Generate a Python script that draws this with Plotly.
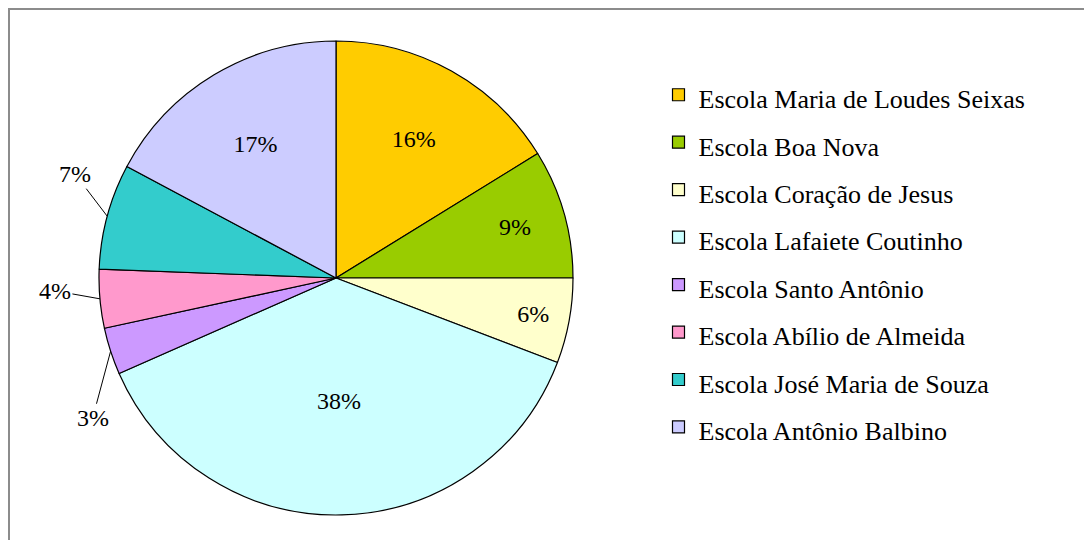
import math

import plotly.graph_objects as go

schools = [
    "Escola Maria de Loudes Seixas",
    "Escola Boa Nova",
    "Escola Coração de Jesus",
    "Escola Lafaiete Coutinho",
    "Escola Santo Antônio",
    "Escola Abílio de Almeida",
    "Escola José Maria de Souza",
    "Escola Antônio Balbino",
]
shares = [16.2, 8.8, 5.8, 37.6, 3.2, 4.0, 7.2, 17.2]
colors = ["#FFCC00", "#99CC00", "#FFFFCC", "#CCFFFF",
          "#CC99FF", "#FF99CC", "#33CCCC", "#CCCCFF"]
# small slices get a label outside with a leader line (pixel offset of the text)
outside_offsets = {4: (-18, 67), 5: (-45, -8), 6: (-32, -42)}

W, H = 1092, 540
FONT = "Liberation Serif, Times New Roman, serif"
# pie centre / radius in figure pixels
CX, CY, R = 328, 270, 237

text_pos = ["none" if i in outside_offsets else "inside" for i in range(len(shares))]

fig = go.Figure(go.Pie(
    labels=[f"<span style='font-size:26px'>{s}</span>" for s in schools],
    values=shares,
    sort=False,
    direction="clockwise",
    rotation=0,
    marker={"colors": colors, "line": {"color": "black", "width": 1.2}},
    textinfo="percent",
    texttemplate="%{percent:.0%}",
    textposition=text_pos,
    insidetextorientation="horizontal",
    textfont={"family": FONT, "size": 24, "color": "black"},
    domain={"x": [(CX - R) / W, (CX + R) / W],
            "y": [1 - (CY + R) / H, 1 - (CY - R) / H]},
    automargin=False,
    hoverinfo="percent",
))

# leader-line labels for the small slices
total = sum(shares)
annotations = []
cum = 0.0
for i, v in enumerate(shares):
    mid = (cum + v / 2) / total * 2 * math.pi
    cum += v
    if i not in outside_offsets:
        continue
    ex = CX + R * math.sin(mid)
    ey = CY - R * math.cos(mid)
    ax, ay = outside_offsets[i]
    annotations.append({
        "x": ex / W, "y": 1 - ey / H, "xref": "paper", "yref": "paper",
        "text": f"{round(v / total * 100)}%",
        "showarrow": True, "arrowhead": 0, "arrowwidth": 1,
        "arrowcolor": "black", "standoff": 0,
        "ax": ax, "ay": ay,
        "font": {"family": FONT, "size": 24, "color": "black"},
    })

fig.update_layout(
    width=W,
    height=H,
    margin={"l": 0, "r": 0, "t": 0, "b": 0},
    paper_bgcolor="white",
    plot_bgcolor="white",
    font={"family": FONT, "size": 24, "color": "black"},
    legend={
        "x": 650.5 / W,
        "y": 1 - 58 / H,
        "xanchor": "left",
        "yanchor": "top",
        "font": {"family": FONT, "size": 34.2, "color": "black"},
        "tracegroupgap": 0,
        "itemwidth": 30,
    },
    annotations=annotations,
    shapes=[{
        "type": "rect", "xref": "paper", "yref": "paper",
        "x0": 1 / W, "x1": 1.02, "y0": -0.02, "y1": 1 - 1 / H,
        "line": {"color": "#8c8c8c", "width": 2},
    }],
)

fig.write_html("out.html")
